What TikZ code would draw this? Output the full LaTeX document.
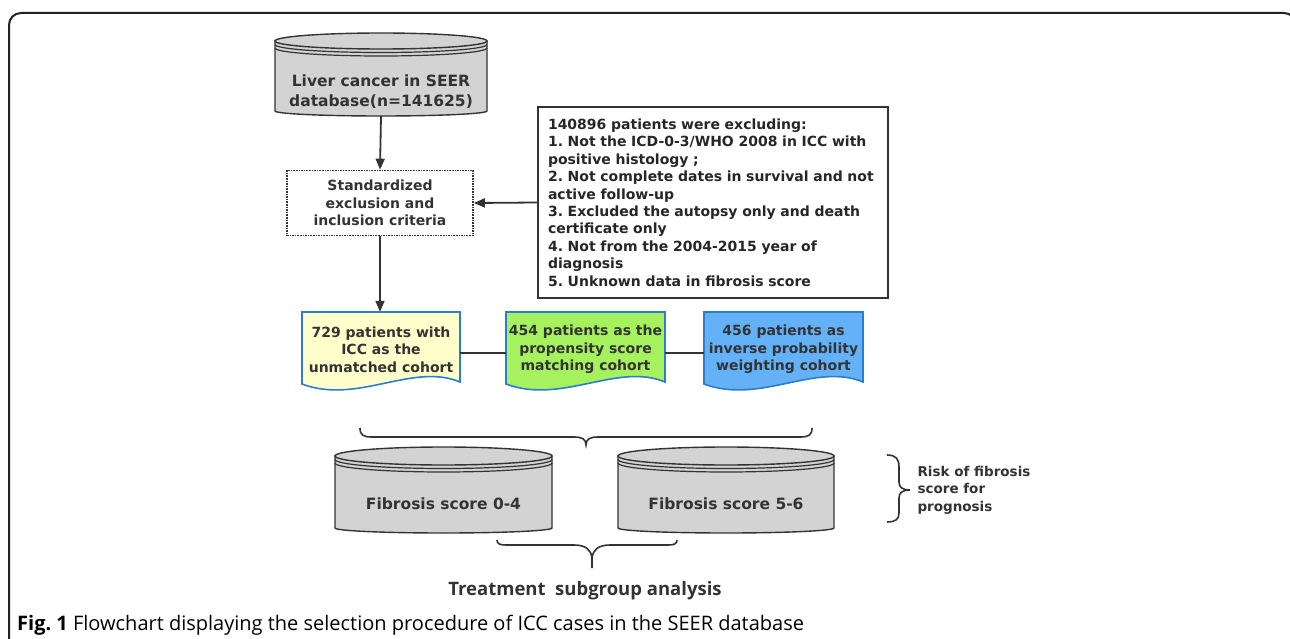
\documentclass[tikz,border=0pt]{standalone}
\usepackage{fontspec}
\setmainfont{Open Sans}
\newfontfamily\dvs{DejaVu Sans}
\usetikzlibrary{arrows.meta,calc}
\frenchspacing
\definecolor{ink}{HTML}{333333}
\definecolor{frame}{HTML}{222222}
\definecolor{cylgray}{HTML}{D3D3D3}
\definecolor{docblue}{HTML}{2A7DD1}
\definecolor{yel}{HTML}{FFFFCC}
\definecolor{grn}{HTML}{A6F25E}
\definecolor{blu}{HTML}{64B1F7}
\tikzset{
  conn/.style={draw=ink, line width=1.8pt},
  arr/.style={conn, -{Triangle[length=11pt,width=9pt]}},
  bigtxt/.style={font=\dvs\fontsize{15.5}{20}\selectfont\bfseries, text=ink, align=center},
  smalltxt/.style={font=\dvs\fontsize{14}{17.4}\selectfont\bfseries, text=ink},
  cylshape/.style={fill=cylgray, draw=ink, line width=1.4pt},
  docshape/.style={draw=docblue, line width=1.6pt},
  bracestyle/.style={draw=ink, line width=1.6pt},
}
% lower half ellipse from (x1,c) to (x2,c), depth d
\newcommand\lowhalf[4]{%
  (#1,#3) .. controls (#1,{#3+0.5523*#4}) and ({(#1+#2)/2-0.5523*(#2-#1)/2},{#3+#4}) .. ({(#1+#2)/2},{#3+#4})
  .. controls ({(#1+#2)/2+0.5523*(#2-#1)/2},{#3+#4}) and (#2,{#3+0.5523*#4}) .. (#2,#3)}
% #1 name, #2 x1, #3 ytop, #4 x2, #5 ybottom(sides), #6 ry, #7 bottom depth
\newcommand\mycyl[7]{%
  \path[cylshape] (#2,{#3+#6}) -- (#2,#5) .. controls (#2,{#5+0.5523*#7}) and ({(#2+#4)/2-0.5523*(#4-#2)/2},{#5+#7}) .. ({(#2+#4)/2},{#5+#7})
    .. controls ({(#2+#4)/2+0.5523*(#4-#2)/2},{#5+#7}) and (#4,{#5+0.5523*#7}) .. (#4,#5) -- (#4,{#3+#6}) -- cycle;
  \path[cylshape] ({(#2+#4)/2},{#3+#6}) ellipse [x radius={(#4-#2)/2}, y radius=#6];
  \draw[ink, line width=1.2pt] \lowhalf{#2}{#4}{#3+#6+3.5}{#6};
  \draw[ink, line width=1.2pt] \lowhalf{#2}{#4}{#3+#6+7}{#6};
  \node[inner sep=0pt, minimum width={#4-#2}, minimum height={#5+#7-#3}] (#1) at ({(#2+#4)/2},{(#3+#5+#7)/2}) {};
}
% #1 name, #2 x1, #3 x2, #4 fill colour
\newcommand\mydoc[4]{%
  \path[docshape, fill=#4] (#2,312) -- (#3,312) -- (#3,382)
    .. controls ({#3-0.3*(#3-#2)},362) and ({#2+0.35*(#3-#2)},405) .. (#2,384) -- cycle;
  \node[inner sep=0pt, minimum width={#3-#2}, minimum height=82] (#1) at ({(#2+#3)/2},353) {};
}
\begin{document}
\begin{tikzpicture}[x=1pt,y=-1pt]
\useasboundingbox (0,0) rectangle (1290,639);
% outer frame
\draw[frame, line width=2pt, rounded corners=12pt] (9,650) -- (9,13) -- (1296,13) -- (1296,650);

% top database cylinder
\mycyl{seer}{275}{33}{487}{111}{8}{5}
\node[bigtxt] (seertxt) at (381,92) {Liver cancer in SEER\\database(n=141625)};

% criteria (dotted)
\node[draw=ink, densely dotted, line width=1.6pt, minimum width=186pt, minimum height=65pt,
      smalltxt, align=center, inner sep=0pt] (crit) at (380,203)
      {Standardized\\exclusion and\\inclusion criteria};

% exclusion box
\node[draw=ink, line width=1.6pt, minimum width=350pt, minimum height=191pt, text width=330pt,
      smalltxt, text=black!85, align=left, inner sep=0pt] (excl) at (713,202.5)
      {140896 patients were excluding:\\
       1. Not the ICD-0-3/WHO 2008 in ICC with\\
       positive histology ;\\
       2. Not complete dates in survival and not\\
       active follow-up\\
       3. Excluded the autopsy only and death\\
       certificate only\\
       4. Not from the 2004-2015 year of\\
       diagnosis\\
       5. Unknown data in fibrosis score};

% documents
\mydoc{doc1}{302}{460}{yel}
\mydoc{doc2}{506}{665}{grn}
\mydoc{doc3}{704}{863}{blu}
\node[smalltxt, align=center] (doc1t) at (381,349.5) {729 patients with\\ICC as the\\unmatched cohort};
\node[smalltxt, align=center] (doc2t) at (585.5,349.5) {454 patients as the\\propensity score\\matching cohort};
\node[smalltxt, align=center] (doc3t) at (783.5,349.5) {456 patients as\\inverse probability\\weighting cohort};

% connectors
\draw[arr] (seer.south) -- (crit.north);
\draw[arr] (excl.west) -- (crit.east);
\draw[arr] (crit.south) -- (crit.south |- doc1.north);
\draw[conn] (doc1.east) -- (doc2.west);
\draw[conn] (doc2.east) -- (doc3.west);

% brace under documents
\draw[bracestyle] (360,428) .. controls (360,435) and (363,437) .. (372,437) -- (574,437)
  .. controls (582,437) and (586,439) .. (586,445)
  .. controls (586,439) and (590,437) .. (598,437) -- (800,437)
  .. controls (809,437) and (812,435) .. (812,428);

% fibrosis cylinders
\mycyl{fib1}{335}{447}{552}{528}{9}{5}
\mycyl{fib2}{618}{447}{834}{528}{9}{5}
\node[bigtxt] (fib1t) at (443.5,504) {Fibrosis score 0-4};
\node[bigtxt] (fib2t) at (726,504) {Fibrosis score 5-6};

% right brace and label
\draw[bracestyle] (887,455) .. controls (896,455) and (899,459) .. (899,467) -- (899,482)
  .. controls (899,487) and (902,490) .. (910,490)
  .. controls (902,490) and (899,493) .. (899,498) -- (899,513)
  .. controls (899,519) and (896,522) .. (887,522);
\node[smalltxt, font=\dvs\fontsize{13.5}{17.5}\selectfont\bfseries, align=left, anchor=west] (risk) at (914,490) {Risk of fibrosis\\score for\\prognosis};

% brace under cylinders
\draw[bracestyle] (497,540) .. controls (497,544) and (500,545) .. (506,545) -- (574,545)
  .. controls (586,545) and (591,550) .. (592,558) -- (592,568);
\draw[bracestyle] (592,558) .. controls (593,550) and (598,545) .. (610,545) -- (668,545)
  .. controls (674,545) and (677,544) .. (677,540);

\node[font=\fontsize{18.5}{20}\selectfont\bfseries, text=ink] (treat) at (585,591) {Treatment\ \ subgroup analysis};

% caption
\node[anchor=west, font=\fontsize{20}{22}\selectfont, text=black, inner sep=0pt] (cap) at (17,625)
  {\textbf{Fig. 1} Flowchart displaying the selection procedure of ICC cases in the SEER database};
\end{tikzpicture}
\end{document}
